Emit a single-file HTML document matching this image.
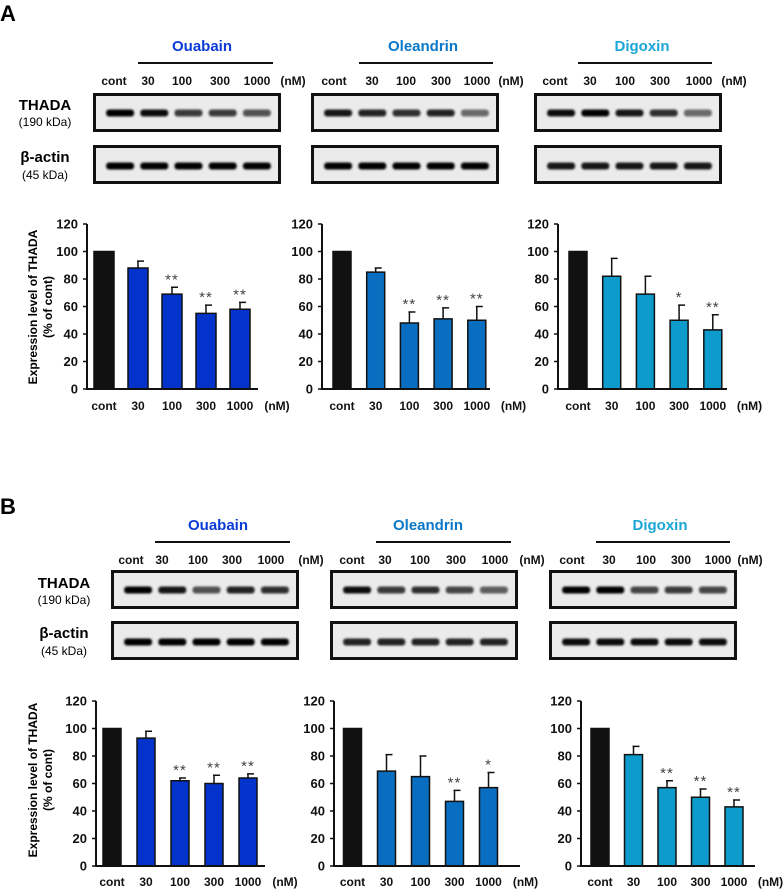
<!DOCTYPE html>
<html><head><meta charset="utf-8"><style>
html,body{margin:0;padding:0;background:#fff;}
svg{display:block;font-family:"Liberation Sans",Arial,sans-serif;}
</style></head><body>
<svg id="fig" width="783" height="889" viewBox="0 0 783 889">
<defs>
<filter id="blur" x="-20%" y="-100%" width="140%" height="300%"><feGaussianBlur stdDeviation="1"/></filter>
</defs>
<g id="static">
<text x="0" y="21" font-size="22" font-weight="bold">A</text>
<text x="0" y="514" font-size="22" font-weight="bold">B</text>
</g>
</svg>
<script>
// ---- data ----
const categories = ["cont","30","100","300","1000"];
const drugs = ["Ouabain","Oleandrin","Digoxin"];
const yTicks = [0,20,40,60,80,100,120];
const aOuabain = [100,88,69,55,58];
const aOuabainErr = [0,5,5,6,5];
const aOuabainSig = ["","","**","**","**"];
const aOleandrin = [100,85,48,51,50];
const aOleandrinErr = [0,3,8,8,10];
const aOleandrinSig = ["","","**","**","**"];
const aDigoxin = [100,82,69,50,43];
const aDigoxinErr = [0,13,13,11,11];
const aDigoxinSig = ["","","","*","**"];
const bOuabain = [100,93,62,60,64];
const bOuabainErr = [0,5,2,6,3];
const bOuabainSig = ["","","**","**","**"];
const bOleandrin = [100,69,65,47,57];
const bOleandrinErr = [0,12,15,8,11];
const bOleandrinSig = ["","","","**","*"];
const bDigoxin = [100,81,57,50,43];
const bDigoxinErr = [0,6,5,6,5];
const bDigoxinSig = ["","","**","**","**"];
// blot band intensities (0-1)
const aThadaBands = [[1,0.95,0.75,0.75,0.65],[0.9,0.85,0.8,0.85,0.55],[0.95,1,0.9,0.8,0.55]];
const aActinBands = [[1,1,1,1,1],[1,1,1,1,1],[0.9,0.9,0.9,0.9,0.9]];
const bThadaBands = [[1,0.9,0.65,0.85,0.8],[0.95,0.75,0.8,0.7,0.6],[1,1,0.7,0.75,0.7]];
const bActinBands = [[1,1,1,1,1],[0.85,0.85,0.85,0.85,0.85],[0.95,0.95,0.95,0.95,0.95]];

const NS="http://www.w3.org/2000/svg";
const svg=document.getElementById('fig');
const drugColors=["#0433cc","#0a6ec0","#0d9bcc"];
const nameColors=["#0a3bd6","#0a78c8","#1aa6d6"];
function mk(tag,attrs,parent,txt){const e=document.createElementNS(NS,tag);for(const k in attrs)e.setAttribute(k,attrs[k]);if(txt!==undefined)e.textContent=txt;(parent||svg).appendChild(e);return e;}

function header(cfg){
  const g=mk('g',{});
  
  
  const t=mk('text',{x:cfg.nameX,y:cfg.nameY,'font-size':15,'font-weight':'bold','text-anchor':'middle',fill:nameColors[cfg.d]},g,drugs[cfg.d]);
  
  
  const l=mk('line',{x1:cfg.lineX1,x2:cfg.lineX2,y1:cfg.lineY,y2:cfg.lineY,stroke:'#111','stroke-width':2},g);
  
  
  cfg.labX.forEach((x,i)=>{
    const lt=mk('text',{x:x,y:cfg.labY,'font-size':12,'font-weight':'bold','text-anchor':'middle',fill:'#111'},g,i<5?categories[i]:'(nM)');
    
    
  });
}
function blot(cfg,rowY,bands,isActin,name){
  const g=mk('g',{});
  
  
  mk('rect',{x:cfg.boxX+1.5,y:rowY+1.5,width:185,height:36,fill:'#ebebeb',stroke:'#111','stroke-width':3},g);
  const lane=(185-14)/5;
  bands.forEach((v,i)=>{
    const cx=cfg.boxX+10+lane*(i+0.5);
    const cy=rowY+(isActin?21:20);
    const b=mk('rect',{x:cx-14,y:cy-3.5,width:28,height:7,rx:3,fill:'#000',opacity:v,filter:'url(#blur)'},g);
    
    
  });
}
function rowLabels(x,y1,y2,y3,y4){
  const a=mk('text',{x:x,y:y1,'font-size':15,'font-weight':'bold','text-anchor':'middle'},svg,'THADA');
  
  const b=mk('text',{x:x,y:y2,'font-size':12,'text-anchor':'middle'},svg,'(190 kDa)');
  
  const c=mk('text',{x:x,y:y3,'font-size':15,'font-weight':'bold','text-anchor':'middle'},svg,'β-actin');
  
  const d=mk('text',{x:x,y:y4,'font-size':12,'text-anchor':'middle'},svg,'(45 kDa)');
  
}
function chart(cfg,vals,errs,sig){
  const g=mk('g',{});
  
  
  const yS=v=>cfg.y0-(v/120)*(cfg.y0-cfg.y120);
  const xS=i=>cfg.c0+i*cfg.sp;
  vals.forEach((v,i)=>{
    const w=cfg.bw;
    const r=mk('rect',{x:xS(i)-w/2,y:yS(v),width:w,height:cfg.y0-yS(v),fill:i==0?'#111':drugColors[cfg.d],stroke:'#111','stroke-width':1.5},g);
    
    
    if(errs[i]>0){
      const e=mk('path',{d:`M${xS(i)} ${yS(v)} V${yS(v+errs[i])} M${xS(i)-1} ${yS(v+errs[i])} H${xS(i)+6}`,stroke:'#111','stroke-width':1.5,fill:'none'},g);
      
      
    }
    if(sig[i]){
      const s=mk('text',{x:xS(i),y:yS(v+errs[i])-3,'font-size':15,'text-anchor':'middle',fill:'#444','letter-spacing':'1'},g,sig[i]);
      
      
    }
    const lt=mk('text',{x:xS(i),y:cfg.labY,'font-size':12,'font-weight':'bold','text-anchor':'middle',fill:'#111'},g,categories[i]);
    
    
  });
  const nm=mk('text',{x:xS(4)+cfg.sp+3,y:cfg.labY,'font-size':12,'font-weight':'bold','text-anchor':'middle',fill:'#111'},g,'(nM)');
  
  
  const ax=mk('path',{d:`M${cfg.ax} ${cfg.y120} V${cfg.y0} H${cfg.end}`,stroke:'#111','stroke-width':2,fill:'none'},g);
  
  
  yTicks.forEach(t=>{
    const tk=mk('line',{x1:cfg.ax-4,x2:cfg.ax,y1:yS(t),y2:yS(t),stroke:'#111','stroke-width':1.5},g);
    
    
    const tl=mk('text',{x:cfg.ax-9,y:yS(t)+4.5,'font-size':13,'font-weight':'bold','text-anchor':'end',fill:'#111'},g,String(t));
    
    
  });
}
function yTitle(cx,cy){
  const t=mk('text',{transform:`translate(${cx},${cy}) rotate(-90)`,'font-size':12,'font-weight':'bold','text-anchor':'middle'},svg);
  
  
  mk('tspan',{x:0,y:-4},t,'Expression level of THADA');
  mk('tspan',{x:0,y:11},t,'(% of cont)');
}

const aHdr=[
 {id:'a-ouabain',d:0,nameX:202,nameY:51,lineX1:138,lineX2:273,lineY:63,labY:85,labX:[114,148,182,220,257,293],boxX:93},
 {id:'a-oleandrin',d:1,nameX:423,nameY:51,lineX1:359,lineX2:493,lineY:63,labY:85,labX:[334,372,406,441,477,511],boxX:311},
 {id:'a-digoxin',d:2,nameX:642,nameY:51,lineX1:578,lineX2:712,lineY:63,labY:85,labX:[555,590,625,660,699,734],boxX:534}];
aHdr.forEach((c,i)=>{header(c);blot(c,93,aThadaBands[i],false,'thada-blot-'+c.id);blot(c,145,aActinBands[i],true,'actin-blot-'+c.id);});
rowLabels(45,110,126,162,179);
const bHdr=[
 {id:'b-ouabain',d:0,nameX:218,nameY:530,lineX1:155,lineX2:290,lineY:542,labY:564,labX:[131,162,198,232,271,311],boxX:111},
 {id:'b-oleandrin',d:1,nameX:428,nameY:530,lineX1:376,lineX2:511,lineY:542,labY:564,labX:[352,385,420,456,495,532],boxX:330},
 {id:'b-digoxin',d:2,nameX:660,nameY:530,lineX1:596,lineX2:730,lineY:542,labY:564,labX:[572,609,646,681,718,750],boxX:549}];
bHdr.forEach((c,i)=>{header(c);blot(c,570,bThadaBands[i],false,'thada-blot-'+c.id);blot(c,621,bActinBands[i],true,'actin-blot-'+c.id);});
rowLabels(64,588,604,638,655);

chart({id:'a-ouabain',d:0,ax:87,end:258,c0:104,sp:34,bw:20,y0:389,y120:224,labY:410},aOuabain,aOuabainErr,aOuabainSig);
chart({id:'a-oleandrin',d:1,ax:322,end:490,c0:342,sp:33.7,bw:18,y0:389,y120:224,labY:410},aOleandrin,aOleandrinErr,aOleandrinSig);
chart({id:'a-digoxin',d:2,ax:558,end:727,c0:578,sp:33.7,bw:18,y0:389,y120:224,labY:410},aDigoxin,aDigoxinErr,aDigoxinSig);
chart({id:'b-ouabain',d:0,ax:96,end:265,c0:112,sp:34,bw:18,y0:866,y120:701,labY:886},bOuabain,bOuabainErr,bOuabainSig);
chart({id:'b-oleandrin',d:1,ax:334,end:520,c0:352.5,sp:34,bw:18,y0:866,y120:701,labY:886},bOleandrin,bOleandrinErr,bOleandrinSig);
chart({id:'b-digoxin',d:2,ax:581,end:755,c0:600,sp:33.5,bw:18,y0:866,y120:701,labY:886},bDigoxin,bDigoxinErr,bDigoxinSig);
yTitle(41,307);
yTitle(41,780);
</script>
</body></html>
